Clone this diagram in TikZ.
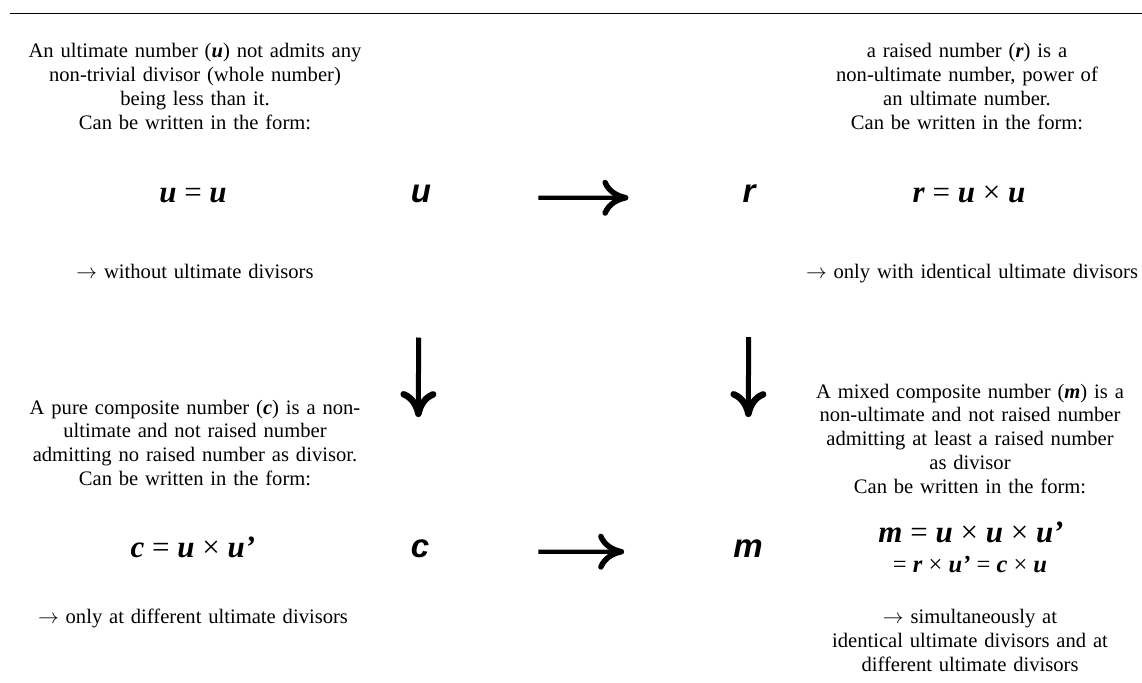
\documentclass[tikz,border=0pt]{standalone}
\usepackage{fontspec}
\setmainfont{Liberation Serif}
\newfontfamily\lettersans{Liberation Sans}
\usetikzlibrary{arrows.meta}

% bold italic variable name inside running text and formulas
\newcommand{\bvar}[1]{\textbf{\textit{#1}}}
% arrow that opens each remark
\newcommand{\remarkarrow}{$\rightarrow$}

\begin{document}
\begin{tikzpicture}[x=1pt,y=-1pt,
  desc/.style={anchor=base,inner sep=0pt,text width=400pt,align=center,
               font=\fontsize{20.6}{23.8}\selectfont},
  formula/.style={anchor=base,inner sep=0pt,font=\fontsize{31}{31}\selectfont},
  formulasmall/.style={anchor=base,inner sep=0pt,font=\fontsize{24.5}{24.5}\selectfont},
  note/.style={anchor=base,inner sep=0pt,text width=400pt,align=center,
               font=\fontsize{20.6}{24}\selectfont},
  letter/.style={anchor=base,inner sep=0pt,
                 font=\lettersans\bfseries\itshape\fontsize{33}{33}\selectfont},
  harrow/.style={line width=4.3pt,
     -{Computer Modern Rightarrow[length=26pt,width=36pt,line width=5.5pt]}},
  varrow/.style={line width=5pt,
     -{Computer Modern Rightarrow[length=26pt,width=36pt,line width=6.5pt]}}]

\useasboundingbox (0,0) rectangle (1142,682);

% top rule
\draw[line width=1pt] (10,14) -- (1142,14);

% ultimate numbers
\node[desc] (du) at (195,58) {An ultimate number (\bvar{u}) not admits any\\
  non-trivial divisor (whole number)\\ being less than it.\\ Can be written in the form:};
\node[formula] (fu) at (193,202) {\bvar{u} = \bvar{u}};
\node[note] (nu) at (195,278) {\remarkarrow{} without ultimate divisors};

% raised numbers
\node[desc] (dr) at (967,58) {a raised number (\bvar{r}) is a\\
  non-ultimate number, power of\\ an ultimate number.\\ Can be written in the form:};
\node[formula] (fr) at (969,202) {\bvar{r} = \bvar{u} × \bvar{u}};
\node[note] (nr) at (972,278) {\remarkarrow{} only with identical ultimate divisors};

% pure composite numbers
\node[desc] (dc) at (195,414) {A pure composite number (\bvar{c}) is a non-\\
  ultimate and not raised number\\ admitting no raised number as divisor.\\
  Can be written in the form:};
\node[formula] (fc) at (193,557) {\bvar{c} = \bvar{u} × \bvar{u’}};
\node[note] (nc) at (193,623) {\remarkarrow{} only at different ultimate divisors};

% mixed composite numbers
\node[desc] (dm) at (970,398) {A mixed composite number (\bvar{m}) is a\\
  non-ultimate and not raised number\\ admitting at least a raised number\\
  as divisor\\ Can be written in the form:};
\node[formula] (fm) at (971,542) {\bvar{m} = \bvar{u} × \bvar{u} × \bvar{u’}};
\node[formulasmall] (fm2) at (970,572) {= \bvar{r} × \bvar{u’} = \bvar{c} × \bvar{u}};
\node[note] (nm) at (970,623) {\remarkarrow{} simultaneously at\\
  identical ultimate divisors and at\\ different ultimate divisors};

% the four kinds of number
\node[letter] (U) at (421,202) {u};
\node[letter] (R) at (749,202) {r};
\node[letter] (C) at (420,557) {c};
\node[letter] (M) at (748,557) {m};

% relations between them
\draw[harrow,shorten <=107pt,shorten >=114pt] ([yshift=-4.5pt]U.east) -- ([yshift=-4.5pt]R.west);
\draw[harrow,shorten <=109pt,shorten >=109pt] ([yshift=-3.5pt]C.east) -- ([yshift=-3.5pt]M.west);
\draw[varrow,shorten <=135pt,shorten >=122pt] ([xshift=-2pt]U.south) -- ([xshift=-2pt]C.north);
\draw[varrow,shorten <=135pt,shorten >=122pt] (R.south) -- (M.north);

\end{tikzpicture}
\end{document}
